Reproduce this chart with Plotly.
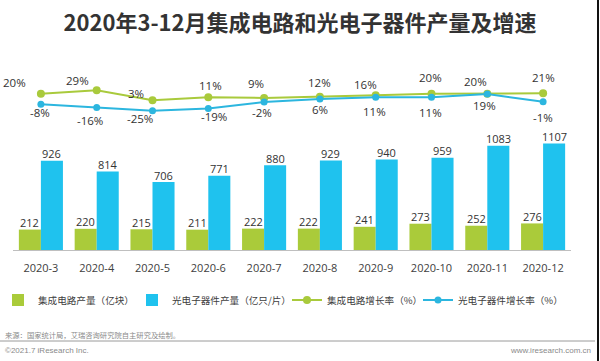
import plotly.graph_objects as go

categories = ["2020-3", "2020-4", "2020-5", "2020-6", "2020-7",
              "2020-8", "2020-9", "2020-10", "2020-11", "2020-12"]
ic_output = [212, 220, 215, 211, 222, 222, 241, 273, 252, 276]
opto_output = [926, 814, 706, 771, 880, 929, 940, 959, 1083, 1107]
ic_growth = [20, 29, 3, 11, 9, 12, 16, 20, 20, 21]
opto_growth = [-8, -16, -25, -19, -2, 6, 11, 11, 19, -1]

series_names = ["集成电路产量（亿块）", "光电子器件产量（亿只/片）",
                "集成电路增长率（%）", "光电子器件增长率（%）"]

# label offsets (pixels) for growth-rate labels
ic_shift_x = [-26, -19, -17, 2, -8, 0, -10, -1, -12, 0]
ic_shift_y = [11, 10, 7, 12, 14, 14, 11, 16, 12, 16]
op_shift_x = [-1, -7, -13, 6, -2, 0, -1, -1, -3, 0]
op_shift_y = [-8, -13, -8, -8, -10, -10, -14, -15, -11, -16]

# legend slot widths (px)
legend_widths = [89, 110, 86, 110]

GREEN_BAR = "#aacb3a"
BLUE_BAR = "#1fc2ee"
GREEN_LINE = "#a9ca3c"
BLUE_LINE = "#2cb6df"
FONT = "Open Sans, Noto Sans CJK SC, sans-serif"
CJK = "Noto Sans CJK SC, sans-serif"

fig = go.Figure()
fig.add_trace(go.Bar(x=categories, y=ic_output, name=series_names[0],
                     marker=dict(color=GREEN_BAR, line=dict(width=0)),
                     legendwidth=legend_widths[0]))
fig.add_trace(go.Bar(x=categories, y=opto_output, name=series_names[1],
                     marker=dict(color=BLUE_BAR, line=dict(width=0)),
                     legendwidth=legend_widths[1]))
fig.add_trace(go.Scatter(x=categories, y=ic_growth, name=series_names[2], yaxis="y2",
                         mode="lines+markers", line=dict(color=GREEN_LINE, width=2),
                         legendwidth=legend_widths[2],
                         marker=dict(size=8, color=GREEN_LINE), cliponaxis=False))
fig.add_trace(go.Scatter(x=categories, y=opto_growth, name=series_names[3], yaxis="y2",
                         mode="lines+markers", line=dict(color=BLUE_LINE, width=2),
                         legendwidth=legend_widths[3],
                         marker=dict(size=7, color=BLUE_LINE), cliponaxis=False))

annotations = []
label_font = dict(size=11, color="#333333", family=FONT)
for c, v in zip(categories, ic_output):
    annotations.append(dict(x=c, y=v, xref="x", yref="y", text=str(v), showarrow=False,
                            xshift=-11, yshift=7, yanchor="middle", font=label_font))
for c, v in zip(categories, opto_output):
    annotations.append(dict(x=c, y=v, xref="x", yref="y", text=str(v), showarrow=False,
                            xshift=11, yshift=7, yanchor="middle", font=label_font))
for c, v, dx, dy in zip(categories, ic_growth, ic_shift_x, ic_shift_y):
    annotations.append(dict(x=c, y=v, xref="x", yref="y2", text=f"{v}%", showarrow=False,
                            xshift=dx, yshift=dy, yanchor="middle",
                            font=dict(size=11.5, color="#333333", family=FONT)))
for c, v, dx, dy in zip(categories, opto_growth, op_shift_x, op_shift_y):
    annotations.append(dict(x=c, y=v, xref="x", yref="y2", text=f"{v}%", showarrow=False,
                            xshift=dx, yshift=dy, yanchor="middle",
                            font=dict(size=11.5, color="#333333", family=FONT)))

# footer
annotations += [
    dict(x=-0.0179, y=-0.472, xref="paper", yref="paper", xanchor="left", yanchor="middle",
         text="来源：国家统计局，艾瑞咨询研究院自主研究及绘制。", showarrow=False,
         font=dict(size=7.3, color="#8a8a8a", family=CJK)),
    dict(x=-0.0179, y=-0.561, xref="paper", yref="paper", xanchor="left", yanchor="middle",
         text="©2021.7 iResearch Inc.", showarrow=False,
         font=dict(size=8, color="#8a8a8a", family="Liberation Sans, Arial")),
    dict(x=1.0394, y=-0.561, xref="paper", yref="paper", xanchor="right", yanchor="middle",
         text="www.iresearch.com.cn", showarrow=False,
         font=dict(size=8, color="#8a8a8a", family="Liberation Sans, Arial")),
]

shapes = [
    dict(type="line", xref="paper", yref="paper", x0=-0.0233, x1=1.043, y0=-0.5056, y1=-0.5056,
         line=dict(color="#9a9a9a", width=1)),
    dict(type="line", xref="paper", yref="paper", x0=1.0484, x1=1.0484, y0=-0.62, y1=1.40,
         line=dict(color="#111111", width=2)),
]

fig.update_layout(
    width=600, height=361,
    margin=dict(l=13, r=29, t=70, b=111, autoexpand=False),
    paper_bgcolor="white", plot_bgcolor="white",
    title=dict(text="<b>2020年3-12月集成电路和光电子器件产量及增速</b>",
               x=0.5, xref="container", xanchor="center",
               y=1 - 23 / 361, yref="container", yanchor="middle",
               font=dict(size=22, color="#333333", family=CJK)),
    barmode="group", bargap=0.21, bargroupgap=0,
    xaxis=dict(type="category", range=[-0.5, 9.5], showline=True, linecolor="#bfbfbf",
               linewidth=1, ticks="", showgrid=False, ticklabelstandoff=8,
               tickfont=dict(size=11, color="#404040", family=FONT)),
    yaxis=dict(range=[0, 1869], visible=False, showgrid=False),
    yaxis2=dict(range=[-391.3, 82.4], overlaying="y", visible=False, showgrid=False),
    legend=dict(orientation="h", x=-15 / 558, xanchor="left", y=-0.278, yanchor="middle",
                font=dict(size=9.6, color="#404040", family=CJK), itemwidth=30,
                traceorder="normal", tracegroupgap=0),
    showlegend=True,
    annotations=annotations,
    shapes=shapes,
)

fig.write_html("out.html", config={"displayModeBar": False},
               post_script="document.body.style.margin='0';")
